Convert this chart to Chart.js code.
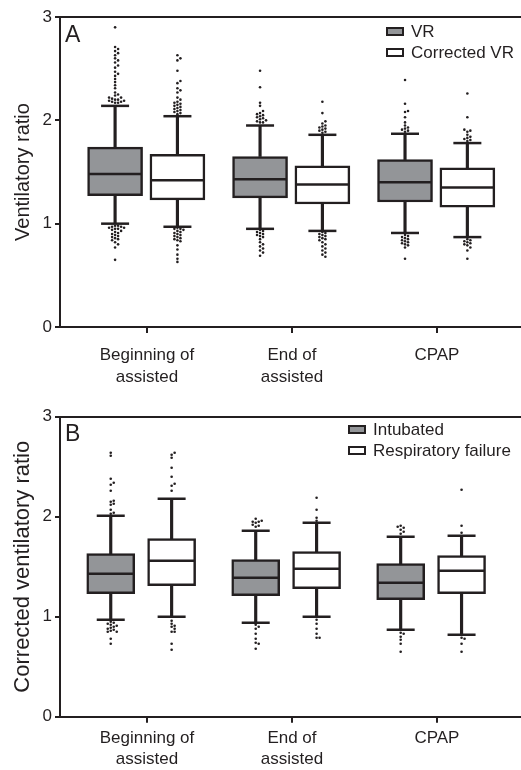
<!DOCTYPE html>
<html>
<head>
<meta charset="utf-8">
<script src="https://cdn.jsdelivr.net/npm/chart.js@4.4.1/dist/chart.umd.min.js"></script>
<style>
  body { margin: 0; background: #fff; font-family: "Liberation Sans", Arial, sans-serif; color: #231f20; }
  .panel { position: relative; width: 521px; height: 385px; }
  .letter { position: absolute; font-size: 23px; line-height: 23px; }
  .legend { position: absolute; font-size: 17px; line-height: 21px; }
  .legend div { display: flex; align-items: center; height: 21px; }
  .sw { box-sizing: border-box; width: 18px; height: 9px; border: 2px solid #231f20; margin-right: 7px; }
</style>
</head>
<body>
<div class="panel" id="panelA">
  <canvas id="chartA"></canvas>
  <div class="letter" style="left:65px; top:23px;">A</div>
  <div class="legend" style="left:386px; top:21px;">
    <div><span class="sw" style="background:#939598"></span>VR</div>
    <div><span class="sw" style="background:#fff"></span>Corrected VR</div>
  </div>
</div>
<div class="panel" id="panelB">
  <canvas id="chartB"></canvas>
  <div class="letter" style="left:65px; top:37px;">B</div>
  <div class="legend" style="left:348px; top:34px;">
    <div><span class="sw" style="background:#939598"></span>Intubated</div>
    <div><span class="sw" style="background:#fff"></span>Respiratory failure</div>
  </div>
</div>
<script>
const INK = '#231f20';
const GREY = '#939598';

const categories = [['Beginning of', 'assisted'], ['End of', 'assisted'], 'CPAP'];
const categoryValues = [1, 2, 3];

// each box: [lower whisker, q1, median, q3, upper whisker]
const vrStats = [[1.00, 1.27, 1.48, 1.74, 2.14], [0.95, 1.25, 1.43, 1.65, 1.95], [0.91, 1.21, 1.40, 1.62, 1.87]];
const cvrStats = [[0.97, 1.23, 1.42, 1.67, 2.04], [0.93, 1.19, 1.38, 1.56, 1.86], [0.87, 1.16, 1.35, 1.54, 1.78]];
const intStats = [[0.97, 1.23, 1.43, 1.63, 2.01], [0.94, 1.21, 1.39, 1.57, 1.86], [0.87, 1.17, 1.34, 1.53, 1.80]];
const rfStats = [[1.00, 1.31, 1.56, 1.78, 2.18], [1.00, 1.28, 1.48, 1.65, 1.94], [0.82, 1.23, 1.46, 1.61, 1.81]];

// outliers per category
const vrOutliers = [
  [2.90, 2.71, 2.69, 2.67, 2.65, 2.63, 2.60, 2.58, 2.56, 2.53, 2.51, 2.47, 2.45, 2.43, 2.40, 2.37, 2.34, 2.31, 2.27, 2.25, 2.24, 2.22, 2.22, 2.21, 2.20, 2.20, 2.19, 2.19, 2.18, 2.18, 2.17, 2.17,
   0.98, 0.98, 0.97, 0.97, 0.96, 0.96, 0.95, 0.95, 0.94, 0.93, 0.92, 0.91, 0.90, 0.89, 0.88, 0.87, 0.86, 0.85, 0.84, 0.82, 0.80, 0.77, 0.65],
  [2.48, 2.32, 2.17, 2.14, 2.09, 2.07, 2.06, 2.05, 2.04, 2.03, 2.02, 2.01, 2.00, 1.99, 1.98, 1.98,
   0.94, 0.93, 0.92, 0.91, 0.90, 0.89, 0.88, 0.87, 0.85, 0.82, 0.80, 0.78, 0.76, 0.74, 0.72, 0.69],
  [2.39, 2.16, 2.09, 2.08, 2.03, 1.98, 1.95, 1.93, 1.92, 1.91, 1.90, 1.89,
   0.89, 0.88, 0.87, 0.86, 0.85, 0.84, 0.83, 0.82, 0.81, 0.80, 0.79, 0.77, 0.66]
];
const cvrOutliers = [
  [2.63, 2.60, 2.58, 2.48, 2.38, 2.36, 2.31, 2.29, 2.27, 2.22, 2.20, 2.18, 2.17, 2.16, 2.15, 2.14, 2.13, 2.12, 2.11, 2.10, 2.09, 2.08, 2.07, 2.06,
   0.96, 0.95, 0.95, 0.94, 0.93, 0.92, 0.91, 0.90, 0.89, 0.88, 0.87, 0.86, 0.85, 0.84, 0.83, 0.79, 0.75, 0.70, 0.66, 0.63],
  [2.18, 2.07, 1.99, 1.97, 1.95, 1.94, 1.93, 1.92, 1.91, 1.90, 1.89, 1.88,
   0.92, 0.91, 0.90, 0.89, 0.88, 0.87, 0.86, 0.85, 0.84, 0.82, 0.80, 0.78, 0.76, 0.74, 0.72, 0.70, 0.68],
  [2.26, 2.03, 1.91, 1.90, 1.89, 1.86, 1.84, 1.83, 1.82, 1.81, 1.80,
   0.85, 0.84, 0.83, 0.82, 0.81, 0.80, 0.79, 0.77, 0.74, 0.66]
];
const intOutliers = [
  [2.64, 2.61, 2.38, 2.34, 2.32, 2.26, 2.16, 2.15, 2.13, 2.12, 2.07, 2.04, 2.03,
   0.95, 0.94, 0.93, 0.92, 0.91, 0.90, 0.89, 0.88, 0.87, 0.86, 0.85, 0.85, 0.78, 0.73],
  [1.98, 1.96, 1.95, 1.95, 1.94, 1.92, 1.91, 1.90,
   0.92, 0.90, 0.88, 0.83, 0.78, 0.74, 0.73, 0.68],
  [1.91, 1.90, 1.89, 1.87, 1.85, 1.83,
   0.84, 0.83, 0.80, 0.77, 0.73, 0.65]
];
const rfOutliers = [
  [2.64, 2.62, 2.59, 2.49, 2.40, 2.33, 2.31, 2.26,
   0.96, 0.93, 0.91, 0.90, 0.88, 0.85, 0.85, 0.73, 0.67],
  [2.19, 2.07, 1.99, 1.96,
   0.97, 0.93, 0.88, 0.83, 0.79, 0.79],
  [2.27, 1.91, 1.84,
   0.79, 0.78, 0.73, 0.65]
];

function seriesDatasets(name, stats, fill, offset, boxPx) {
  const xs = stats.map((s, i) => categoryValues[i] + offset);
  const bar = { type: 'bar', grouped: false, borderSkipped: false };
  return [
    { ...bar, label: name, order: 3, data: stats.map((s, i) => ({ x: xs[i], y: [s[1], s[3]] })),
      backgroundColor: fill, borderColor: INK, borderWidth: 2.5, barThickness: boxPx },
    { ...bar, order: 4, data: stats.flatMap((s, i) => [{ x: xs[i], y: [s[3], s[4]] }, { x: xs[i], y: [s[0], s[1]] }]),
      backgroundColor: INK, borderWidth: 0, barThickness: 2.5 },
    { type: 'scatter', order: 1, data: stats.map((s, i) => ({ x: xs[i], y: s[2] })),
      pointStyle: 'line', pointRadius: boxPx / 2 - 1, pointBorderWidth: 2.5, pointBorderColor: INK },
    { type: 'scatter', order: 1, data: stats.flatMap((s, i) => [{ x: xs[i], y: s[0] }, { x: xs[i], y: s[4] }]),
      pointStyle: 'line', pointRadius: 14, pointBorderWidth: 2.5, pointBorderColor: INK }
  ];
}

function outlierDataset(outliers, stats, offset) {
  return {
    type: 'scatter', order: 0, outliers, stats, offset, data: [],
    pointRadius: 1.3, pointBorderWidth: 0, pointBackgroundColor: INK
  };
}

// simple beeswarm, spread in pixel space using the chart's own scales
function swarm(chart) {
  const xs = chart.scales.x, ys = chart.scales.y, d = 3;
  chart.data.datasets.filter(ds => ds.outliers).forEach(ds => {
    ds.data = ds.outliers.flatMap((vals, i) => {
      const cx = categoryValues[i] + ds.offset;
      const med = ds.stats[i][2];
      const cpx = xs.getPixelForValue(cx);
      const placed = [];
      return [...vals].sort((a, b) => Math.abs(a - med) - Math.abs(b - med)).map(v => {
        const py = ys.getPixelForValue(v);
        let off = 0;
        for (let k = 0; k < 40; k++) {
          off = (k % 2 ? 1 : -1) * Math.ceil(k / 2) * d;
          if (!placed.some(p => (p[0] - off) ** 2 + (p[1] - py) ** 2 < d * d)) break;
        }
        placed.push([off, py]);
        return { x: xs.getValueForPixel(cpx + off), y: v };
      });
    });
  });
  chart.update('none');
}

function makeChart(id, datasets, title, titleSize, titlePad, padTop, xHeight, labelPad) {
  const chart = new Chart(document.getElementById(id), {
    type: 'bar',
    data: { datasets },
    options: {
      responsive: true, maintainAspectRatio: false, animation: false, events: [],
      layout: { autoPadding: false, padding: { top: padTop, right: 0, left: 0, bottom: 0 } },
      plugins: { legend: { display: false }, tooltip: { enabled: false } },
      scales: {
        x: {
          type: 'linear', min: 0.4, max: 3.58, offset: false,
          afterBuildTicks: s => { s.ticks = categoryValues.map(v => ({ value: v })); },
          afterFit: s => { s.height = xHeight; s.paddingLeft = 0; s.paddingRight = 0; },
          ticks: { callback: v => categories[v - 1], color: INK, padding: labelPad, maxRotation: 0, autoSkip: false,
                   font: { family: '"Liberation Sans", Arial, sans-serif', size: 17, lineHeight: 1.25 } },
          grid: { drawOnChartArea: false, offset: false, tickLength: 6, lineWidth: 2, tickColor: INK },
          border: { display: true, color: INK, width: 2 }
        },
        y: {
          min: 0, max: 3,
          afterFit: s => { s.width = 60; s.paddingTop = 0; s.paddingBottom = 0; },
          ticks: { stepSize: 1, color: INK, padding: 3,
                   font: { family: '"Liberation Sans", Arial, sans-serif', size: 17 } },
          grid: { color: c => (c.tick && c.tick.value === 3 ? INK : 'rgba(0,0,0,0)'),
                  lineWidth: 2, tickLength: 5, tickColor: INK },
          border: { display: true, color: INK, width: 2 },
          title: { display: true, text: title, color: INK, padding: { top: titlePad, bottom: 0 },
                   font: { family: '"Liberation Sans", Arial, sans-serif', size: titleSize } }
        }
      }
    }
  });
  swarm(chart);
  return chart;
}

makeChart('chartA', [
  outlierDataset(vrOutliers, vrStats, -0.22),
  outlierDataset(cvrOutliers, cvrStats, 0.21),
  ...seriesDatasets('VR', vrStats, GREY, -0.22, 55),
  ...seriesDatasets('Corrected VR', cvrStats, '#fff', 0.21, 55)
], 'Ventilatory ratio', 20, 11, 17, 58, 12);

makeChart('chartB', [
  outlierDataset(intOutliers, intStats, -0.25),
  outlierDataset(rfOutliers, rfStats, 0.17),
  ...seriesDatasets('Intubated', intStats, GREY, -0.25, 48),
  ...seriesDatasets('Respiratory failure', rfStats, '#fff', 0.17, 48)
], 'Corrected ventilatory ratio', 22, 10, 31.7, 53.3, 5);
</script>
</body>
</html>
